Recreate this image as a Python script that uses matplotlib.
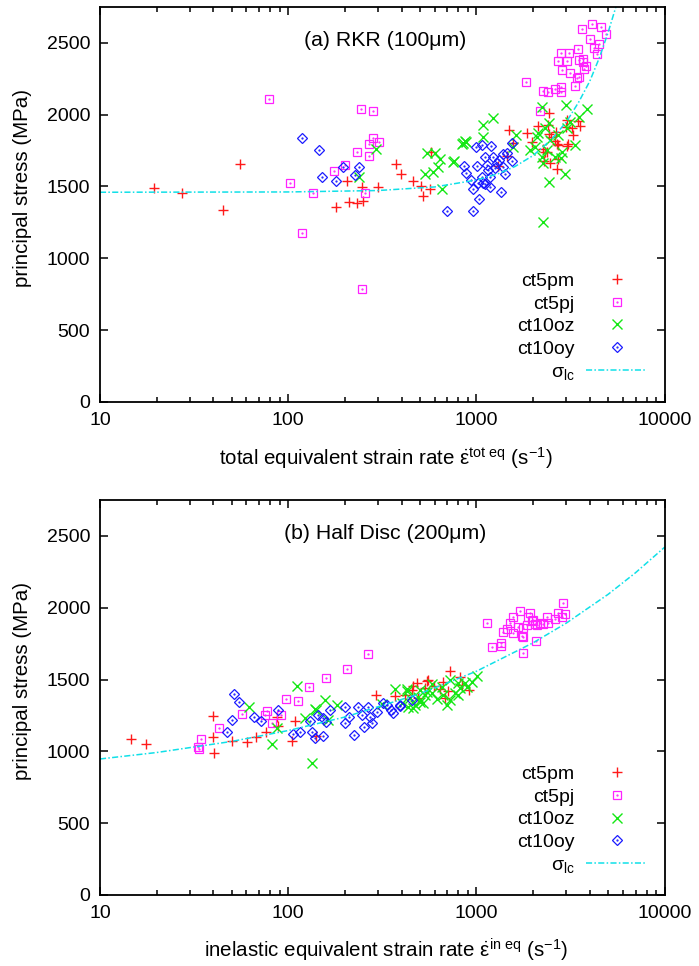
import matplotlib
matplotlib.use('Agg')
import matplotlib.pyplot as plt
from matplotlib.ticker import LogLocator, FixedLocator, NullFormatter

plt.rcParams['font.family'] = ['Liberation Sans', 'DejaVu Sans']
plt.rcParams['mathtext.fontset'] = 'custom'
plt.rcParams['mathtext.rm'] = 'Liberation Sans'
plt.rcParams['mathtext.it'] = 'Liberation Sans:italic'
plt.rcParams['mathtext.bf'] = 'Liberation Sans:bold'

# ---- panel (a) RKR, total equivalent strain rate ----
a_ct5pm_x = [19.4, 27.2, 45, 55.4, 179, 204, 210, 232, 246, 249, 299, 373, 397, 459, 507, 519, 566, 573,
             1300, 1449, 1486, 1560, 1853, 1968, 2118, 2427, 2307, 2455, 2673, 2673, 2704, 2985, 3055, 3251,
             3540, 3459, 2483, 2253, 2281, 2393, 2642, 2366, 3020, 3211, 2606, 2427, 2704, 3020]
a_ct5pm_y = [1490, 1455, 1337, 1657, 1355, 1539, 1393, 1386, 1497, 1400, 1497, 1657, 1585, 1539, 1504, 1434, 1483, 1741,
             1643, 1713, 1894, 1804, 1873, 1811, 1922, 2013, 1741, 1664, 1623, 1797, 1692, 1915, 1797, 1859,
             1922, 1957, 1845, 1762, 1678, 1929, 1880, 1741, 1964, 1908, 1818, 1866, 1790, 1783]

a_ct5pj_x = [79, 102, 118, 135, 175, 200, 243, 282, 282, 268, 303, 232, 268, 246, 255,
             1830, 2253, 2393, 2606, 2806, 2806, 2173, 2704, 2806, 3098, 3459, 3020, 2843, 3134, 3413,
             3500, 3673, 3716, 3630, 4100, 4580, 4865, 4000, 4467, 4200, 4356, 3673, 3810, 3500, 3335]
a_ct5pj_y = [2110, 1525, 1177, 1455, 1609, 1650, 2040, 2027, 1838, 1797, 1811, 1741, 1713, 787, 1455,
             2229, 2166, 2159, 2180, 2194, 2159, 2027, 2375, 2430, 2430, 2458, 2375, 2312, 2291, 2256,
             2382, 2389, 2319, 2598, 2632, 2612, 2563, 2528, 2493, 2465, 2423, 2368, 2340, 2263, 2201]

a_ct10oz_x = [292, 237, 546, 601, 640, 759, 847, 624, 587, 532, 655, 836, 879, 1081, 1222, 1081, 1619, 1560, 750, 867,
              2225, 2985, 3858, 2253, 2427, 2945, 3335, 3500, 2455, 2042, 1923, 2118, 2307, 2225, 2366, 2704,
              2843, 3020, 3134, 2094, 2427, 2606, 2253, 2806]
a_ct10oz_y = [1762, 1567, 1734, 1734, 1692, 1678, 1804, 1637, 1602, 1588, 1483, 1797, 1811, 1929, 1978, 1845, 1859, 1776, 1671, 1818,
              2054, 2068, 2040, 1254, 1532, 1588, 1790, 1985, 1825, 1776, 1755, 1873, 1908, 1706, 1755, 1859,
              1741, 1908, 1950, 1845, 1943, 1706, 1664, 1699]

a_ct10oy_x = [118, 146, 151, 179, 195, 237, 226,
              697, 957, 1031, 957, 1348, 857, 879, 1005, 993, 1069, 1191, 1109, 1222, 1135, 1283, 1381, 1542,
              1381, 1416, 1178, 1069, 1081, 1109, 1178, 1542, 1149, 1315, 1250, 933, 1017, 1449]
a_ct10oy_y = [1838, 1755, 1567, 1539, 1637, 1637, 1581,
              1330, 1330, 1414, 1483, 1462, 1643, 1595, 1643, 1776, 1790, 1783, 1706, 1706, 1650, 1664, 1727, 1678,
              1637, 1588, 1567, 1567, 1525, 1518, 1497, 1804, 1616, 1685, 1630, 1546, 1525, 1734]

a_sigma_x = [10, 100, 300, 600, 1000, 1300, 1600, 2000, 2500, 3000, 3500, 4000, 4500, 5000, 5500]
a_sigma_y = [1460, 1462, 1472, 1497, 1545, 1588, 1639, 1716, 1827, 1949, 2090, 2234, 2398, 2572, 2750]

# ---- panel (b) Half Disc, inelastic equivalent strain rate ----
b_ct5pm_x = [14.6, 17.5, 39.8, 39.8, 40.3, 50.2, 60.4, 67.3, 76.2, 88.1, 87.1, 108.6, 104.7, 140, 292, 369, 417,
             459, 489, 546, 722, 552, 663, 816, 836, 705, 679, 912, 594, 532, 483, 640, 453]
b_ct5pm_y = [1086, 1052, 1247, 1100, 989, 1072, 1065, 1100, 1135, 1177, 1240, 1212, 1072, 1107, 1393, 1386, 1393,
             1455, 1372, 1490, 1560, 1497, 1483, 1518, 1462, 1421, 1372, 1428, 1455, 1441, 1476, 1434, 1428]

b_ct5pj_x = [33.6, 34.4, 33.0, 42.9, 56.8, 77.1, 75.2, 81.9, 91.4, 97.3, 112.5, 129, 158, 205, 265,
             1135, 1207, 1348, 1348, 1381, 1449, 1504, 1560, 1700, 1763, 1742, 1763, 1853, 1923, 1968, 2042,
             2066, 2173, 2366, 2393, 2606, 2704, 2877, 2945, 2843, 1560, 1660, 1875, 1990, 2094, 2253, 1763]
b_ct5pj_y = [1017, 1086, 1030, 1163, 1260, 1281, 1253, 1198, 1253, 1365, 1351, 1449, 1511, 1574, 1678,
             1894, 1727, 1734, 1755, 1832, 1852, 1894, 1936, 1978, 1685, 1804, 1859, 1880, 1964, 1908, 1887,
             1769, 1894, 1936, 1894, 1922, 1964, 2033, 1957, 1936, 1825, 1866, 1936, 1915, 1880, 1887, 1797]

b_ct10oz_x = [61.9, 81.9, 87.1, 111.2, 133.6, 122.7, 138.6, 156.7, 181.5, 162.5, 140, 369, 427, 402, 459, 489, 546, 519, 315,
              427, 443, 471, 500, 532, 580, 616, 663, 722, 768, 816, 867, 945, 1005, 655, 722, 796, 889, 580, 500,
              432, 796, 697]
b_ct10oz_y = [1309, 1052, 1163, 1455, 919, 1233, 1295, 1358, 1323, 1219, 1288, 1434, 1434, 1337, 1302, 1379, 1414, 1337, 1330,
              1421, 1372, 1323, 1344, 1393, 1407, 1365, 1393, 1358, 1407, 1441, 1476, 1483, 1525, 1449, 1497, 1476, 1449, 1469, 1428,
              1309, 1393, 1323]

b_ct10oy_x = [51.5, 54.7, 50.2, 47.2, 65.8, 71.6, 88.1, 106, 115, 130, 133.6, 139, 153, 144, 153, 158, 166, 200, 200, 210,
              223, 234, 246, 252, 265, 272, 278, 296, 318, 334, 351, 361, 392, 453, 392]
b_ct10oy_y = [1400, 1344, 1219, 1135, 1240, 1212, 1288, 1121, 1135, 1212, 1135, 1093, 1107, 1253, 1233, 1205, 1288, 1309, 1198, 1240,
              1114, 1309, 1253, 1170, 1309, 1240, 1198, 1274, 1337, 1323, 1288, 1267, 1316, 1358, 1323]

b_sigma_x = [10, 20, 50, 100, 200, 500, 1000, 2000, 3000, 5000, 7000, 10000]
b_sigma_y = [947, 992, 1069, 1145, 1239, 1401, 1558, 1756, 1893, 2093, 2244, 2422]

yticks = [0, 500, 1000, 1500, 2000, 2500]
xticks = [10, 100, 1000, 10000]
series_names = ['ct5pm', 'ct5pj', 'ct10oz', 'ct10oy']

RED = '#ff1a1a'
MAG = '#ff22ff'
GRN = '#14e814'
BLU = '#1a1aff'
CYN = '#10e0e8'
FS = 14


def panel(ax, pm, pj, oz, oy, sig, title, xlabel):
    h_pm, = ax.plot(pm[0], pm[1], ls='none', marker='+', ms=7.5, mew=1.0, color=RED)
    h_pj, = ax.plot(pj[0], pj[1], ls='none', marker='s', ms=5.5, mew=0.9, mfc='none', color=MAG)
    h_pjd, = ax.plot(pj[0], pj[1], ls='none', marker='.', ms=1.2, color=MAG)
    h_oz, = ax.plot(oz[0], oz[1], ls='none', marker='x', ms=7.5, mew=1.0, color=GRN)
    h_oy, = ax.plot(oy[0], oy[1], ls='none', marker='D', ms=5.6, mew=0.9, mfc='none', color=BLU)
    h_oyd, = ax.plot(oy[0], oy[1], ls='none', marker='.', ms=1.2, color=BLU)
    h_s, = ax.plot(sig[0], sig[1], color=CYN, lw=1.1, dashes=(4, 1.5, 1, 1.5))

    ax.set_xscale('log')
    ax.set_xlim(10, 10000)
    ax.set_ylim(0, 2750)
    ax.xaxis.set_major_locator(FixedLocator(xticks))
    ax.set_xticklabels([str(v) for v in xticks])
    ax.xaxis.set_minor_locator(LogLocator(base=10, subs=range(2, 10)))
    ax.xaxis.set_minor_formatter(NullFormatter())
    ax.set_yticks(yticks)
    ax.tick_params(which='both', direction='in', top=True, right=True, labelsize=FS, width=1.1, pad=7)
    ax.tick_params(which='major', length=6)
    ax.tick_params(which='minor', length=3.5)
    for s in ax.spines.values():
        s.set_linewidth(1.3)

    ax.text(0.505, 0.915, title, transform=ax.transAxes, ha='center', va='center', fontsize=15.3)
    ax.set_xlabel(xlabel, fontsize=14.8)
    ax.xaxis.label.set_va('center')
    ax.xaxis.set_label_coords(0.506, -0.141)
    ax.set_ylabel('principal stress (MPa)', fontsize=14.8)
    ax.yaxis.label.set_va('center')
    ax.yaxis.set_label_coords(-0.138, 0.542)

    leg = ax.legend([h_pm, (h_pj, h_pjd), h_oz, (h_oy, h_oyd), h_s],
                    series_names + [r'$\mathrm{\sigma}_{\mathrm{lc}}$'],
                    loc='lower right', bbox_to_anchor=(0.993, 0.017), frameon=False,
                    markerfirst=False, numpoints=1, fontsize=FS, handlelength=3.15,
                    handletextpad=0.6, labelspacing=0.26, borderpad=0.2)
    for t in leg.get_texts():
        t.set_ha('right')
    return leg


fig = plt.figure(figsize=(6.99, 9.66), dpi=100)
ax1 = fig.add_axes([0.143, 0.5839, 0.808, 0.4089])
ax2 = fig.add_axes([0.143, 0.0735, 0.808, 0.4089])

panel(ax1, (a_ct5pm_x, a_ct5pm_y), (a_ct5pj_x, a_ct5pj_y), (a_ct10oz_x, a_ct10oz_y),
      (a_ct10oy_x, a_ct10oy_y), (a_sigma_x, a_sigma_y), u'(a) RKR (100\u03bcm)',
      r'total equivalent strain rate $\dot{\mathrm{\varepsilon}}^{\mathrm{tot\ eq}}$ (s$^{\mathrm{-1}}$)')
panel(ax2, (b_ct5pm_x, b_ct5pm_y), (b_ct5pj_x, b_ct5pj_y), (b_ct10oz_x, b_ct10oz_y),
      (b_ct10oy_x, b_ct10oy_y), (b_sigma_x, b_sigma_y), u'(b) Half Disc (200\u03bcm)',
      r'inelastic equivalent strain rate $\dot{\mathrm{\varepsilon}}^{\mathrm{in\ eq}}$ (s$^{\mathrm{-1}}$)')

fig.savefig('out.png', dpi=100)
